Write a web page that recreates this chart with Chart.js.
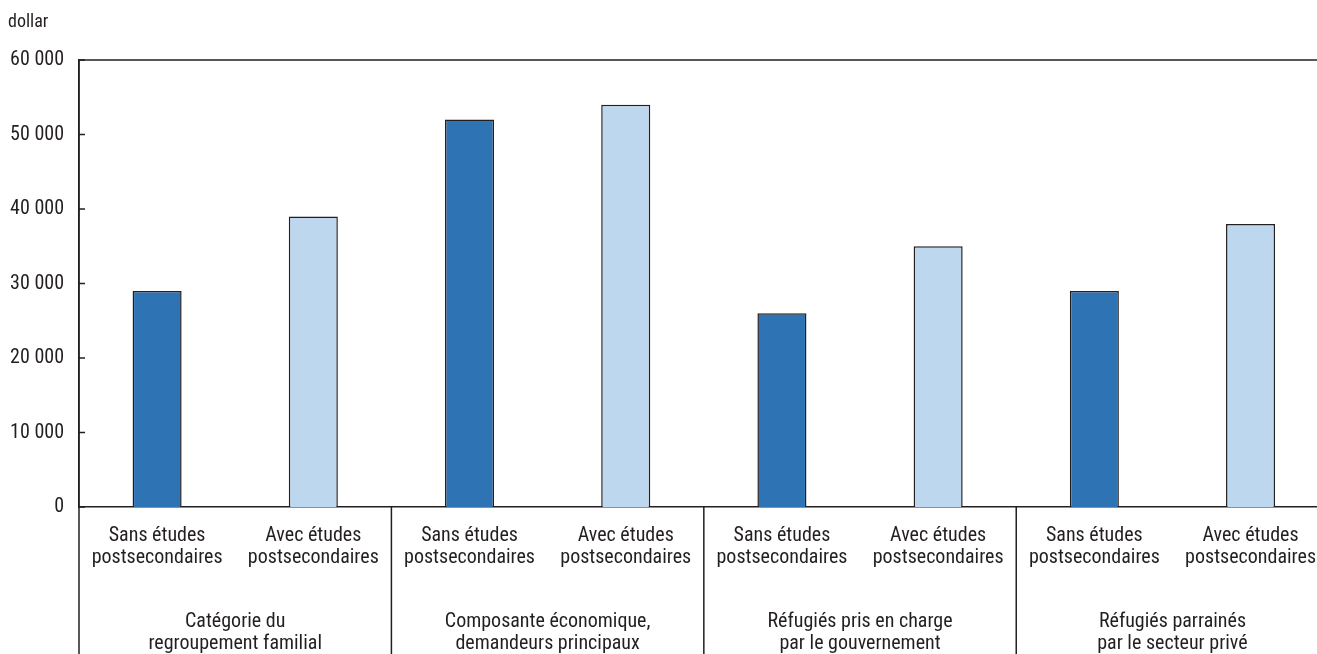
<!DOCTYPE html>
<html>
<head>
<meta charset="utf-8">
<script src="https://cdn.jsdelivr.net/npm/chart.js@4"></script>
<style>
  html, body { margin: 0; padding: 0; overflow: hidden; background: #fff; }
  #wrap { width: 1334px; height: 654px; position: relative; }
</style>
</head>
<body>
<div id="wrap"><canvas id="c"></canvas></div>
<script>
const categories = [
  ['Sans études', 'postsecondaires'], ['Avec études', 'postsecondaires'],
  ['Sans études', 'postsecondaires'], ['Avec études', 'postsecondaires'],
  ['Sans études', 'postsecondaires'], ['Avec études', 'postsecondaires'],
  ['Sans études', 'postsecondaires'], ['Avec études', 'postsecondaires']
];
const groups = [
  ['Catégorie du', 'regroupement familial'],
  ['Composante économique,', 'demandeurs principaux'],
  ['Réfugiés pris en charge', 'par le gouvernement'],
  ['Réfugiés parrainés', 'par le secteur privé']
];
const values = [29000, 39000, 52000, 54000, 26000, 35000, 29000, 38000];
const yTicks = [0, 10000, 20000, 30000, 40000, 50000, 60000];
const unitLabel = 'dollar';

const FONT = "'Roboto Condensed', 'DejaVu Sans Condensed', sans-serif";
const TXT = '#231f20';
const DARK = '#2e74b5';
const LIGHT = '#bdd7ee';

function fmt(v) { return String(v).replace(/\B(?=(\d{3})+(?!\d))/g, ' '); }

const extras = {
  id: 'extras',
  afterDraw(chart) {
    const ctx = chart.ctx;
    const a = chart.chartArea;
    const x = chart.scales.x, y = chart.scales.y;
    const H = chart.height;
    ctx.save();
    ctx.strokeStyle = '#231f20';
    ctx.lineWidth = 1.5;
    ctx.beginPath(); ctx.moveTo(a.left, a.top); ctx.lineTo(a.right, a.top); ctx.stroke();
    ctx.beginPath(); ctx.moveTo(a.left, a.top); ctx.lineTo(a.left, H); ctx.stroke();
    yTicks.forEach(v => {
      const py = y.getPixelForValue(v);
      ctx.beginPath(); ctx.moveTo(a.left, py); ctx.lineTo(a.left + 6, py); ctx.stroke();
    });
    for (let g = 1; g < groups.length; g++) {
      const px = (x.getPixelForValue(2 * g - 1) + x.getPixelForValue(2 * g)) / 2;
      ctx.beginPath(); ctx.moveTo(px, a.bottom); ctx.lineTo(px, H); ctx.stroke();
    }
    ctx.fillStyle = TXT;
    ctx.font = '20px ' + FONT;
    ctx.textAlign = 'center';
    ctx.textBaseline = 'middle';
    groups.forEach((lines, g) => {
      const cx = (x.getPixelForValue(2 * g) + x.getPixelForValue(2 * g + 1)) / 2;
      lines.forEach((t, i) => ctx.fillText(t, cx, 622 + i * 22));
    });
    ctx.textAlign = 'left';
    ctx.font = '18px ' + FONT;
    ctx.fillText(unitLabel, 8, 22);
    ctx.restore();
  }
};

new Chart(document.getElementById('c'), {
  type: 'bar',
  data: {
    labels: categories,
    datasets: [{
      data: values,
      backgroundColor: values.map((_, i) => i % 2 === 0 ? DARK : LIGHT),
      borderColor: '#231f20',
      borderWidth: 1.5,
      categoryPercentage: 1,
      barPercentage: 0.314
    }]
  },
  options: {
    responsive: true,
    maintainAspectRatio: false,
    animation: false,
    events: [],
    layout: { padding: { top: 60, left: 0, right: 0, bottom: 0 } },
    plugins: { legend: { display: false }, tooltip: { enabled: false } },
    scales: {
      x: {
        grid: { display: false, drawTicks: false },
        border: { display: true, color: '#231f20', width: 1.5 },
        ticks: {
          color: TXT, font: { family: FONT, size: 20, lineHeight: 1.1 }, padding: 18,
          maxRotation: 0, autoSkip: false
        },
        afterFit(s) { s.height = 147; }
      },
      y: {
        min: 0, max: 60000,
        grid: { display: false, drawTicks: false },
        border: { display: true, color: '#231f20', width: 1.5 },
        afterBuildTicks(s) { s.ticks = yTicks.map(v => ({ value: v })); },
        ticks: {
          color: TXT, font: { family: FONT, size: 20 }, padding: 15,
          callback: v => fmt(v)
        },
        afterFit(s) { s.width = 79; }
      }
    }
  },
  plugins: [extras]
});
</script>
</body>
</html>
